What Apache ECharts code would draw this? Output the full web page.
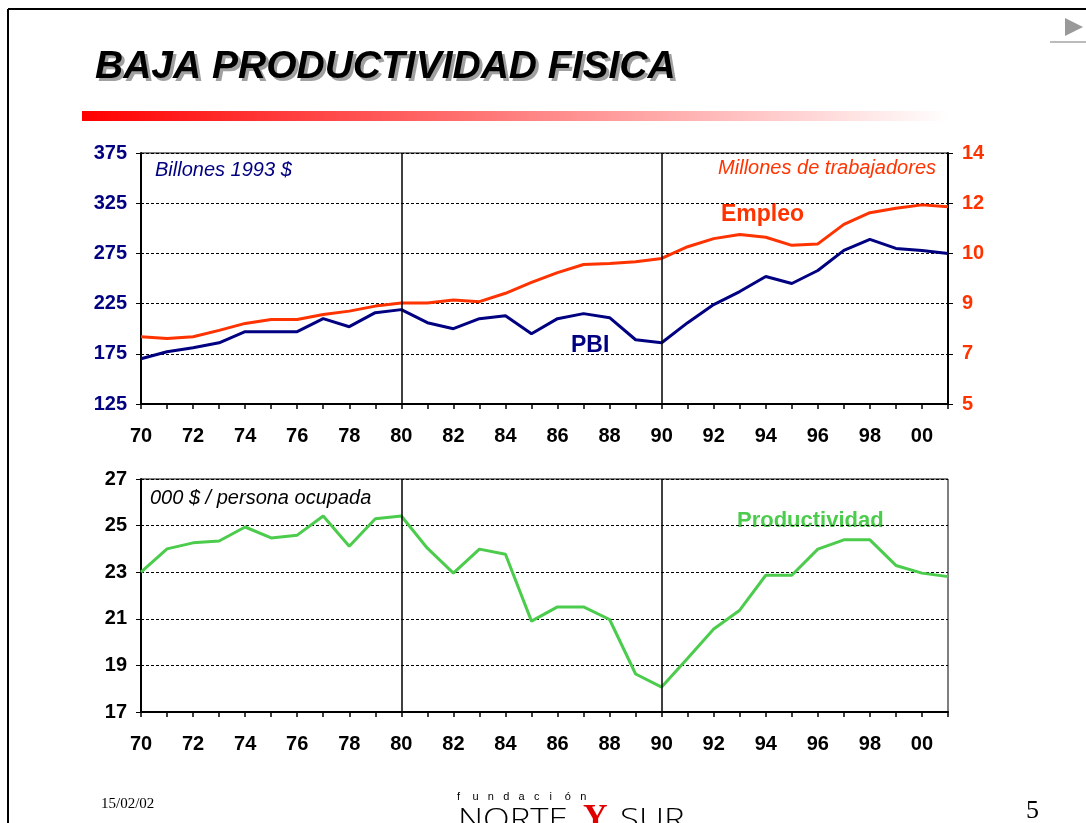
<!DOCTYPE html>
<html>
<head>
<meta charset="utf-8">
<script src="https://cdn.jsdelivr.net/npm/echarts@6/dist/echarts.min.js"></script>
<style>
html,body{margin:0;padding:0;background:#fff;}
#chart{width:1086px;height:823px;}
</style>
</head>
<body>
<div id="chart"></div>
<script>
// ---- data ----
const years = ['70','71','72','73','74','75','76','77','78','79','80','81','82','83','84','85','86','87','88','89','90','91','92','93','94','95','96','97','98','99','00','01'];
const pbi = [170, 177, 181, 186, 197, 197, 197, 210, 202, 216, 219, 206, 200, 210, 213, 195, 210, 215, 211, 189, 186, 206, 224, 237, 252, 245, 258, 278, 289, 280, 278, 275];
const empleo = [7.41, 7.35, 7.41, 7.64, 7.89, 8.03, 8.03, 8.21, 8.33, 8.51, 8.62, 8.62, 8.73, 8.67, 8.97, 9.36, 9.71, 10.0, 10.04, 10.1, 10.22, 10.64, 10.93, 11.08, 10.98, 10.69, 10.74, 11.44, 11.86, 12.02, 12.14, 12.07];
const productividad = [23.0, 24.0, 24.26, 24.34, 24.94, 24.47, 24.59, 25.41, 24.11, 25.29, 25.41, 24.03, 22.96, 23.99, 23.77, 20.9, 21.51, 21.51, 20.97, 18.63, 18.07, 19.31, 20.56, 21.37, 22.87, 22.87, 23.99, 24.39, 24.39, 23.29, 22.96, 22.81];
const dividerYears = ['80', '90'];
const pbiAxis = {min: 125, max: 375, interval: 50};
const empleoAxis = {min: 5, max: 14, interval: 1.8};
const prodAxis = {min: 17, max: 27, interval: 2};

const FONT = "'Liberation Sans', Arial, Helvetica, sans-serif";
const NAVY = '#000080', RED = '#FF3300', GREEN = '#4CCC4C';

const chart = echarts.init(document.getElementById('chart'));

function xAxisFor(gridIndex) {
  return {
    type: 'category', gridIndex, data: years, boundaryGap: false,
    axisLine: {lineStyle: {color: '#000', width: 2}},
    axisTick: {show: true, interval: 0, length: 5, lineStyle: {color: '#000', width: 1.5}},
    axisLabel: {interval: 1, margin: 22, color: '#000', fontWeight: 'bold', fontSize: 20, fontFamily: FONT},
    splitLine: {show: false}
  };
}
const dotted = {color: '#000', width: 1, type: [3, 2]};
function vLines() {
  return {
    silent: true, symbol: 'none', animation: false,
    label: {show: false},
    lineStyle: {color: '#000', width: 1.5, type: 'solid'},
    data: dividerYears.map(y => ({xAxis: y}))
  };
}

const letters = 'fundación'.split('');

chart.setOption({
  animation: false,
  backgroundColor: '#fff',
  grid: [
    {left: 141, right: 138, top: 153, height: 251, show: true, borderColor: '#000', borderWidth: 1},
    {left: 141, right: 138, top: 479, height: 233, show: true, borderColor: '#000', borderWidth: 1}
  ],
  xAxis: [xAxisFor(0), xAxisFor(1)],
  yAxis: [
    {type: 'value', gridIndex: 0, position: 'left', min: pbiAxis.min, max: pbiAxis.max, interval: pbiAxis.interval,
     axisLine: {show: true, lineStyle: {color: '#000', width: 2}},
     axisTick: {show: true, length: 5, lineStyle: {color: '#000'}},
     axisLabel: {margin: 14, color: NAVY, fontWeight: 'bold', fontSize: 20, fontFamily: FONT},
     splitLine: {show: true, lineStyle: dotted}},
    {type: 'value', gridIndex: 0, position: 'right', min: empleoAxis.min, max: empleoAxis.max, interval: empleoAxis.interval,
     axisLine: {show: true, lineStyle: {color: '#000', width: 2}},
     axisTick: {show: true, length: 5, lineStyle: {color: '#000'}},
     axisLabel: {margin: 14, color: RED, fontWeight: 'bold', fontSize: 20, fontFamily: FONT,
                 formatter: v => String(Math.round(v))},
     splitLine: {show: false}},
    {type: 'value', gridIndex: 1, position: 'left', min: prodAxis.min, max: prodAxis.max, interval: prodAxis.interval,
     axisLine: {show: true, lineStyle: {color: '#000', width: 2}},
     axisTick: {show: true, length: 5, lineStyle: {color: '#000'}},
     axisLabel: {margin: 14, color: '#000', fontWeight: 'bold', fontSize: 20, fontFamily: FONT},
     splitLine: {show: true, lineStyle: dotted}}
  ],
  series: [
    {name: 'Empleo', type: 'line', xAxisIndex: 0, yAxisIndex: 1, data: empleo, showSymbol: false,
     lineStyle: {color: RED, width: 3}, itemStyle: {color: RED}, z: 3},
    {name: 'PBI', type: 'line', xAxisIndex: 0, yAxisIndex: 0, data: pbi, showSymbol: false,
     lineStyle: {color: NAVY, width: 3}, itemStyle: {color: NAVY}, z: 4, markLine: vLines()},
    {name: 'Productividad', type: 'line', xAxisIndex: 1, yAxisIndex: 2, data: productividad, showSymbol: false,
     lineStyle: {color: GREEN, width: 3}, itemStyle: {color: GREEN}, z: 4, markLine: vLines()}
  ],
  graphic: [
    // frame
    {type: 'line', shape: {x1: 8, y1: 9, x2: 1086, y2: 9}, style: {stroke: '#000', lineWidth: 2}, silent: true},
    {type: 'line', shape: {x1: 8, y1: 9, x2: 8, y2: 823}, style: {stroke: '#000', lineWidth: 2}, silent: true},
    // top-right arrow
    {type: 'polygon', shape: {points: [[1065, 18], [1065, 36], [1083, 27]]}, style: {fill: '#999'}, silent: true},
    {type: 'line', shape: {x1: 1050, y1: 42, x2: 1086, y2: 42}, style: {stroke: '#bbb', lineWidth: 2}, silent: true},
    // title with shadow
    {type: 'text', left: 98, top: 51, silent: true,
     style: {text: 'BAJA PRODUCTIVIDAD FISICA', fill: '#a0a0a0', font: "italic bold 39px " + FONT}},
    {type: 'text', left: 95, top: 48, silent: true,
     style: {text: 'BAJA PRODUCTIVIDAD FISICA', fill: '#000', font: "italic bold 39px " + FONT}},
    // red gradient bar
    {type: 'rect', shape: {x: 82, y: 111, width: 868, height: 10}, silent: true,
     style: {fill: new echarts.graphic.LinearGradient(0, 0, 1, 0, [{offset: 0, color: '#FF0000'}, {offset: 1, color: '#FFFFFF'}])}},
    // annotations
    {type: 'text', x: 155, y: 170, silent: true,
     style: {text: 'Billones 1993 $', fill: NAVY, font: "italic 20px " + FONT, verticalAlign: 'middle'}},
    {type: 'text', x: 936, y: 168, silent: true,
     style: {text: 'Millones de trabajadores', fill: RED, font: "italic 20px " + FONT, align: 'right', verticalAlign: 'middle'}},
    {type: 'text', x: 721, y: 215, silent: true,
     style: {text: 'Empleo', fill: RED, font: "bold 23px " + FONT, verticalAlign: 'middle'}},
    {type: 'text', x: 571, y: 346, silent: true,
     style: {text: 'PBI', fill: NAVY, font: "bold 23px " + FONT, verticalAlign: 'middle'}},
    {type: 'text', x: 150, y: 498, silent: true,
     style: {text: '000 $ / persona ocupada', fill: '#000', font: "italic 20px " + FONT, verticalAlign: 'middle'}},
    {type: 'text', x: 737, y: 521, silent: true,
     style: {text: 'Productividad', fill: GREEN, font: "bold 22px " + FONT, verticalAlign: 'middle'}},
    // footer
    {type: 'text', x: 101, y: 804, silent: true,
     style: {text: '15/02/02', fill: '#000', font: "15px 'Liberation Serif', 'Times New Roman', serif", verticalAlign: 'middle'}},
    ...letters.map((ch, i) => ({type: 'text', x: 457 + i * 15.4, y: 797, silent: true,
     style: {text: ch, fill: '#000', font: "11px " + FONT, verticalAlign: 'middle'}})),
    {type: 'text', x: 458, y: 806, scaleX: 1.2, silent: true,
     style: {text: 'NORTE', fill: '#000', font: "300 29px 'Open Sans', " + FONT}},
    {type: 'text', x: 583, y: 801, silent: true,
     style: {text: 'Y', fill: '#E00000', font: "bold 34px 'Liberation Serif', serif"}},
    {type: 'text', x: 620, y: 806, scaleX: 1.2, silent: true,
     style: {text: 'SUR', fill: '#000', font: "300 29px 'Open Sans', " + FONT}},
    {type: 'text', x: 1026, y: 798, silent: true,
     style: {text: '5', fill: '#000', font: "26px 'Liberation Serif', serif"}}
  ]
});
</script>
</body>
</html>
